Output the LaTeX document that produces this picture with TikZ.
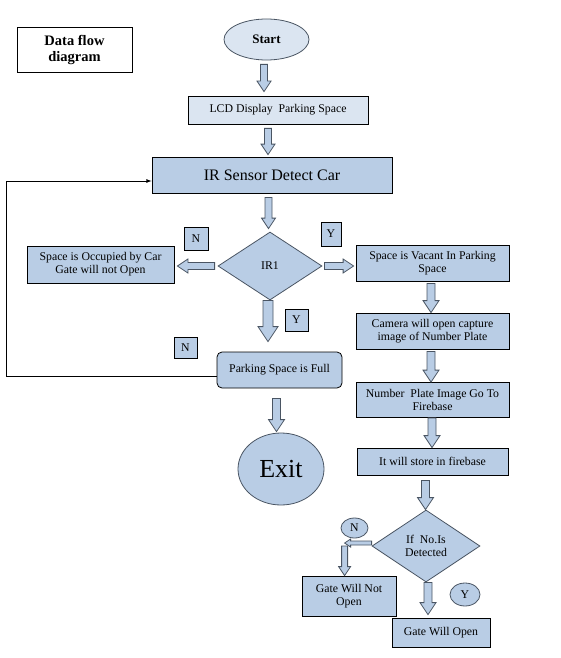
\documentclass[tikz,border=0pt]{standalone}
\usepackage{fontspec}
\setmainfont{Liberation Serif}
\usetikzlibrary{calc,shapes.geometric}

\definecolor{lightfill}{HTML}{DBE5F1}
\definecolor{boxfill}{HTML}{B9CDE5}
\definecolor{arrowline}{HTML}{4A5563}

% fat arrows: #1 half shaft width, #2 tail, #3 tip
\newcommand{\downblock}[3][4]{%
  \draw[blockarrow] let \p1=#2, \p2=#3 in
    (\x1-#1pt,\y1) -- (\x1+#1pt,\y1) -- (\x1+#1pt,\y2+3*#1pt) -- (\x1+2*#1pt,\y2+3*#1pt)
    -- (\x1,\y2) -- (\x1-2*#1pt,\y2+3*#1pt) -- (\x1-#1pt,\y2+3*#1pt) -- cycle;}
\newcommand{\leftblock}[3][4]{%
  \draw[blockarrow] let \p1=#2, \p2=#3 in
    (\x1,\y1+#1pt) -- (\x2+3*#1pt,\y1+#1pt) -- (\x2+3*#1pt,\y1+2*#1pt)
    -- (\x2,\y1) -- (\x2+3*#1pt,\y1-2*#1pt) -- (\x2+3*#1pt,\y1-#1pt) -- (\x1,\y1-#1pt) -- cycle;}
\newcommand{\rightblock}[3][4]{%
  \draw[blockarrow] let \p1=#2, \p2=#3 in
    (\x1,\y1+#1pt) -- (\x2-3*#1pt,\y1+#1pt) -- (\x2-3*#1pt,\y1+2*#1pt)
    -- (\x2,\y1) -- (\x2-3*#1pt,\y1-2*#1pt) -- (\x2-3*#1pt,\y1-#1pt) -- (\x1,\y1-#1pt) -- cycle;}

\begin{document}
\begin{tikzpicture}[x=1pt,y=-1pt,
  every node/.style={font=\fontsize{11.8}{12.8}\selectfont, align=center, inner sep=1pt},
  process/.style={rectangle, draw, line width=0.8pt, fill=boxfill},
  decision/.style={diamond, draw=arrowline, line width=0.8pt, fill=boxfill},
  terminal/.style={ellipse, draw=arrowline, line width=0.8pt, fill=boxfill},
  tag/.style={rectangle, draw, line width=0.8pt, fill=boxfill},
  tagcircle/.style={ellipse, draw=arrowline, line width=0.8pt, fill=boxfill},
  blockarrow/.style={draw=arrowline, line width=0.8pt, fill=boxfill, line join=miter}]
\useasboundingbox (0,0) rectangle (561,658);

% title box
\node[rectangle, draw, line width=0.8pt, minimum width=115pt, minimum height=45pt,
  font=\fontsize{14.5}{16}\selectfont\bfseries] (title) at (74.5,49.5) {Data flow\\diagram};

% main column
\node[terminal, fill=lightfill, minimum width=85pt, minimum height=41pt,
  font=\fontsize{13}{14}\selectfont\bfseries] (start) at (266.5,39.5) {Start};
\node[process, fill=lightfill, minimum width=180pt, minimum height=28pt] (lcd) at (278,110) {LCD Display\ \ Parking Space};
\node[process, minimum width=240pt, minimum height=36pt,
  font=\fontsize{16}{18}\selectfont] (ir) at (272,175) {IR Sensor Detect Car};
\node[decision, minimum width=104pt, minimum height=68pt] (ir1) at (270,266) {IR1};
\node[process, minimum width=147pt, minimum height=37pt] (occ) at (100.5,264.5) {Space is Occupied by Car\\Gate will not Open};
\node[process, rounded corners=5pt, minimum width=125pt, minimum height=36pt] (full) at (279.5,370) {Parking Space is Full};
\node[terminal, minimum width=86pt, minimum height=72pt,
  font=\fontsize{26}{28}\selectfont] (exit) at (281,469) {Exit};

% right column
\node[process, minimum width=153pt, minimum height=36pt] (vac) at (432.5,263) {Space is Vacant In Parking\\Space};
\node[process, minimum width=153pt, minimum height=36pt] (cam) at (432.5,331) {Camera will open capture\\image of Number Plate};
\node[process, minimum width=153pt, minimum height=35pt] (plate) at (432.5,400) {Number\ \ Plate Image Go To\\Firebase};
\node[process, minimum width=151pt, minimum height=27pt] (store) at (432.5,461.5) {It will store in firebase};
\node[decision, minimum width=108pt, minimum height=72pt] (det) at (426,546) {If\ \ No.Is\\Detected};
\node[process, minimum width=94pt, minimum height=40pt] (notopen) at (349,596) {Gate Will Not\\Open};
\node[process, minimum width=98pt, minimum height=29pt] (open) at (441,632.5) {Gate Will Open};

% Y / N tags
\node[tag, minimum width=24pt, minimum height=23pt] (nleft) at (196,238.5) {N};
\node[tag, minimum width=20pt, minimum height=24pt] (yright) at (331,234) {Y};
\node[tag, minimum width=23pt, minimum height=22pt] (ydown) at (296.5,320) {Y};
\node[tag, minimum width=23pt, minimum height=21pt] (nback) at (185.5,347.5) {N};
\node[tagcircle, minimum width=27pt, minimum height=20pt] (nno) at (354.5,528) {N};
\node[tagcircle, minimum width=30pt, minimum height=23pt] (yyes) at (465,594.5) {Y};

% block arrows
\downblock[3.5]{([xshift=-2.5pt,yshift=-4pt]start.south)}{([yshift=4pt]lcd.north)}
\downblock[3.5]{([xshift=-10pt,yshift=-4pt]lcd.south)}{([yshift=2pt]ir.north)}
\downblock[3.5]{([xshift=-3.5pt,yshift=-4pt]ir.south)}{([yshift=3pt]ir1.north)}
\leftblock[3.5]{([xshift=-3pt]ir1.west)}{([xshift=3pt]occ.east)}
\rightblock[3.5]{([xshift=2pt]ir1.east)}{([xshift=-2pt]vac.west)}
\downblock[5]{([xshift=-2pt]ir1.south)}{([yshift=10pt]full.north)}
\downblock[4]{([xshift=-3pt,yshift=-10pt]full.south)}{([yshift=1pt]exit.north)}
\downblock[4]{([xshift=-1.5pt,yshift=-2pt]vac.south)}{(cam.north)}
\downblock[4]{([xshift=-1.5pt,yshift=-2pt]cam.south)}{(plate.north)}
\downblock[4]{([xshift=-0.5pt]plate.south)}{(store.north)}
\downblock[4]{([xshift=-7pt,yshift=-5pt]store.south)}{(det.north)}
\downblock[4]{([xshift=2pt]det.south)}{([yshift=3pt]open.north)}
\leftblock[2]{([yshift=3pt]det.west)}{([xshift=-27pt,yshift=3pt]det.west)}
\downblock[3]{([xshift=-27pt]det.west)}{(notopen.north)}

% loop back when the parking is full
\draw[line width=0.8pt, -latex] ([yshift=-6pt]full.west) -- ++(-210,0) |- ([yshift=-6pt]ir.west);
\end{tikzpicture}
\end{document}
